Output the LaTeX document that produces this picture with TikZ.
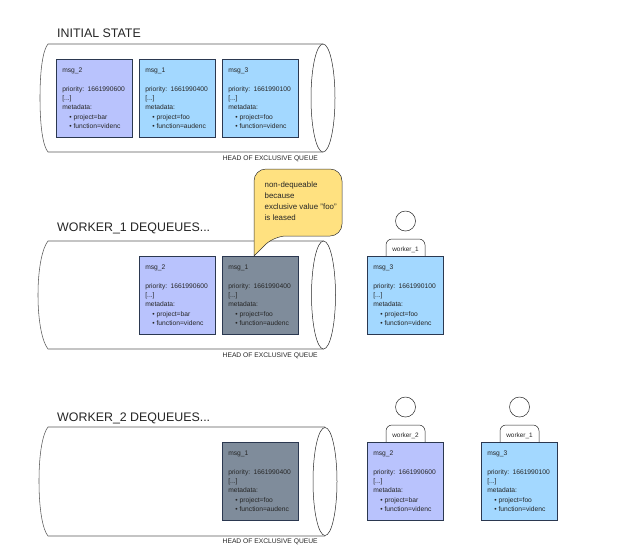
\documentclass[tikz,border=0pt]{standalone}
\usepackage{fontspec}
\setmainfont{Liberation Sans}
\definecolor{lav}{HTML}{B9C3FD}
\definecolor{sky}{HTML}{A3D8FF}
\definecolor{slate}{HTML}{7F8C9B}
\definecolor{note}{HTML}{FFE180}
\definecolor{edge}{HTML}{2B3850}
\tikzset{
  card/.style={draw=edge,line width=.55pt,anchor=north west,minimum width=76pt,minimum height=78pt,
    text width=64pt,inner sep=0pt,align=left,text=black!85,font=\fontsize{6.7}{9.35}\selectfont},
  lavcard/.style={card,fill=lav},
  skycard/.style={card,fill=sky},
  slatecard/.style={card,fill=slate},
  heading/.style={anchor=west,inner sep=0pt,font=\fontsize{12.4}{15}\selectfont,text=black!85},
  headlabel/.style={anchor=west,inner sep=0pt,font=\fontsize{6.7}{8}\selectfont,text=black!85},
  tube/.style={draw=black!65,line width=.55pt},
  mouth/.style={draw=black!85,fill=white,line width=.5pt},
  person/.style={circle,draw=black!85,fill=white,line width=.5pt,minimum size=20pt,inner sep=0pt},
  tabtext/.style={inner sep=0pt,font=\fontsize{6.4}{7}\selectfont,text=black!85},
  tabline/.style={draw=black!85,fill=white,line width=.5pt,rounded corners=6pt}
}
% body text of one message card: name, priority, function
\newcommand{\msgtext}[4]{#1\\[9.35pt]priority: #2\\{[}...{]}\\metadata:\\\hspace*{7pt}\textbullet\hspace{2pt}project=#3\\\hspace*{7pt}\textbullet\hspace{2pt}function=#4}
% queue body at vertical range #1..#2, open towards the right; #3 mouth centre, #4 leftmost x
\newcommand{\queue}[4]{
  \draw[tube] (#3,#1) -- (48,#1) .. controls (43,#1+6) and (#4,#1+25) .. (#4,#1+54)
     .. controls (#4,#2-25) and (43,#2-6) .. (48,#2) -- (#3,#2);
  \draw[mouth] (#3,#1/2+#2/2) ellipse [x radius=12,y radius=54];
}
% worker: head above a rounded tab
\newcommand{\worker}[4]{
  \node[person] (#1head) at (#2+38.5,#3-35) {};
  \draw[tabline] (#2+19,#3+1) -- (#2+19,#3-17) -- (#2+58,#3-17) -- (#2+58,#3+1);
  \node[tabtext] (#1tab) at (#2+38.5,#3-6.5) {#4};
}
\begin{document}
\begin{tikzpicture}[x=1pt,y=-1pt]
\useasboundingbox (0,0) rectangle (636,558);
\fill[white] (0,0) rectangle (636,558);

% first state
\node[heading] (t1) at (57,33) {INITIAL STATE};
\queue{44}{152}{323}{40}
\node[lavcard] (a2) at (56,59) {\msgtext{msg\_2}{1661990600}{bar}{videnc}};
\node[skycard] (a1) at (139,59) {\msgtext{msg\_1}{1661990400}{foo}{audenc}};
\node[skycard] (a3) at (222,59) {\msgtext{msg\_3}{1661990100}{foo}{videnc}};
\node[headlabel] (h1) at (222.7,159) {HEAD OF EXCLUSIVE QUEUE};

% second state
\node[heading] (t2) at (57,228.5) {WORKER\_1 DEQUEUES...};
\queue{241}{349}{323.5}{38}
\node[lavcard] (b2) at (139,256) {\msgtext{msg\_2}{1661990600}{bar}{videnc}};
\node[slatecard] (b1) at (222,256) {\msgtext{msg\_1}{1661990400}{foo}{audenc}};
\draw[draw=black!80,fill=note,line width=.5pt,rounded corners=0pt]
  (254,256) -- (254,182) [rounded corners=12pt] -- (254,169) -- (342,169) -- (342,236) -- (274,236)
  [rounded corners=0pt] -- cycle;
\node[anchor=north west,inner sep=0pt,align=left,text=black!85,font=\fontsize{7.9}{11}\selectfont] (n1) at (264.5,182)
  {non-dequeable\\because\\exclusive value "foo"\\is leased};
\node[headlabel] (h2) at (222.5,356) {HEAD OF EXCLUSIVE QUEUE};
\worker{w}{367}{256}{worker\_1}
\node[skycard] (b3) at (367,256) {\msgtext{msg\_3}{1661990100}{foo}{videnc}};

% third state
\node[heading] (t3) at (57,418.5) {WORKER\_2 DEQUEUES...};
\queue{427}{536}{325}{39}
\node[slatecard] (c1) at (222,442) {\msgtext{msg\_1}{1661990400}{foo}{audenc}};
\node[headlabel] (h3) at (222.5,542) {HEAD OF EXCLUSIVE QUEUE};
\worker{x}{367}{442}{worker\_2}
\node[lavcard] (c2) at (367,442) {\msgtext{msg\_2}{1661990600}{bar}{videnc}};
\worker{y}{481}{442}{worker\_1}
\node[skycard] (c3) at (481,442) {\msgtext{msg\_3}{1661990100}{foo}{videnc}};
\end{tikzpicture}
\end{document}
